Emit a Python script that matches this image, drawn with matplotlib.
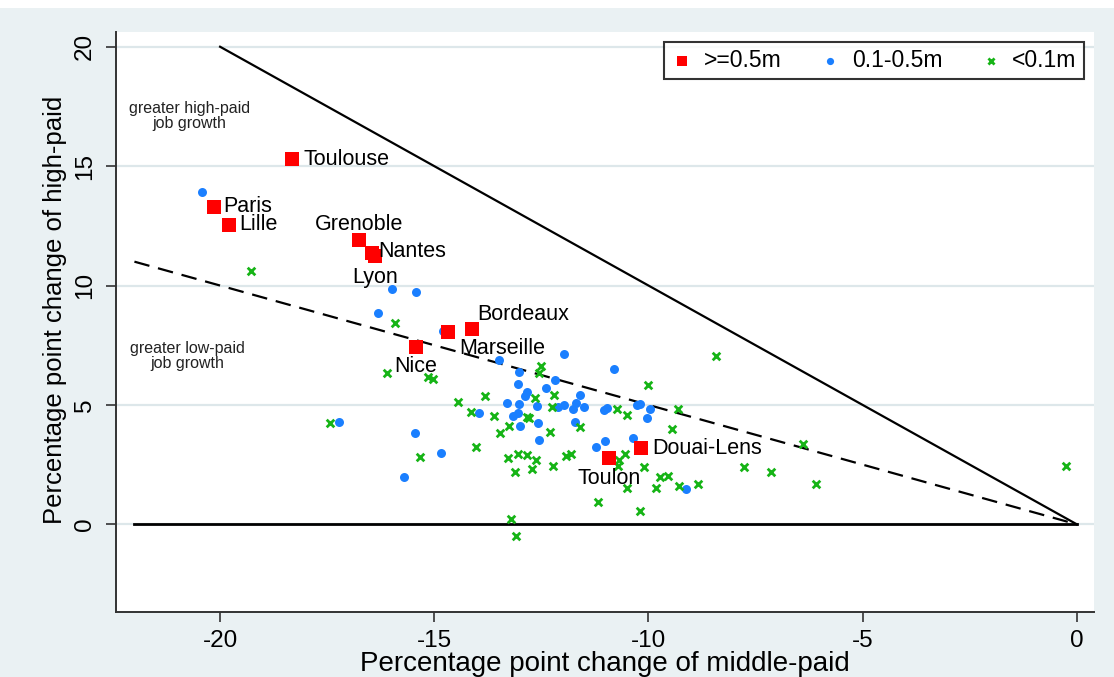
import matplotlib
matplotlib.use("Agg")
import matplotlib.pyplot as plt
from matplotlib.patches import Rectangle

plt.rcParams['font.family'] = ['Liberation Sans', 'DejaVu Sans']

# ---------------- data ----------------
large_names = ["Toulouse", "Paris", "Lille", "Grenoble", "Nantes", "Lyon",
               "Bordeaux", "Marseille", "Nice", "Douai-Lens", "Toulon"]
large_x = [-18.31, -20.15, -19.79, -16.75, -16.46, -16.38, -14.13, -14.67, -15.43, -10.17, -10.91]
large_y = [15.28, 13.30, 12.55, 11.91, 11.35, 11.25, 8.19, 8.04, 7.44, 3.20, 2.76]

mid_x = [-20.42, -15.99, -15.43, -16.32, -14.79, -13.49, -11.97, -10.80, -13.02, -12.18,
         -13.04, -12.40, -12.83, -12.88, -11.60, -13.31, -13.02, -12.60, -12.12, -11.97,
         -11.69, -11.77, -11.50, -11.03, -10.96, -10.27, -10.20, -9.97, -13.96, -13.16,
         -13.04, -10.03, -11.71, -12.57, -13.01, -12.55, -10.36, -11.01, -11.23, -14.84,
         -9.12, -17.22, -15.45, -15.70]
mid_y = [13.92, 9.84, 9.74, 8.84, 8.11, 6.88, 7.13, 6.52, 6.39, 6.04,
         5.87, 5.71, 5.54, 5.38, 5.41, 5.09, 5.02, 4.95, 4.90, 4.98,
         5.09, 4.82, 4.90, 4.79, 4.88, 4.98, 5.04, 4.83, 4.65, 4.55,
         4.65, 4.46, 4.27, 4.23, 4.12, 3.53, 3.63, 3.49, 3.25, 2.97,
         1.49, 4.27, 3.84, 1.98]

small_x = [-19.27, -15.91, -16.11, -15.15, -15.04, -13.81, -14.45, -14.14, -13.60, -13.26,
           -13.47, -17.43, -14.02, -8.42, -12.52, -12.55, -10.01, -12.20, -12.64, -12.26,
           -10.74, -9.32, -12.83, -12.79, -10.49, -11.60, -12.29, -9.46, -15.33, -13.29,
           -13.04, -12.84, -12.62, -13.12, -12.73, -12.22, -11.92, -11.81, -10.68, -10.54,
           -10.70, -10.10, -9.74, -9.54, -10.49, -9.83, -9.28, -8.84, -11.17, -10.20,
           -13.22, -13.10, -6.40, -7.76, -7.15, -6.09, -0.25]
small_y = [10.61, 8.44, 6.32, 6.16, 6.07, 5.39, 5.11, 4.72, 4.55, 4.12,
           3.84, 4.23, 3.22, 7.05, 6.63, 6.32, 5.82, 5.43, 5.29, 4.93,
           4.84, 4.82, 4.51, 4.46, 4.58, 4.09, 3.88, 3.98, 2.81, 2.79,
           2.94, 2.91, 2.69, 2.19, 2.30, 2.44, 2.87, 2.94, 2.69, 2.93,
           2.45, 2.41, 1.98, 2.04, 1.51, 1.51, 1.60, 1.69, 0.93, 0.57,
           0.23, -0.50, 3.36, 2.40, 2.19, 1.69, 2.43]

legend_labels = [">=0.5m", "0.1-0.5m", "<0.1m"]
x_ticks = [-20, -15, -10, -5, 0]
y_ticks = [0, 5, 10, 15, 20]

# reference lines: solid from (-20,20) to origin, dashed y=-0.5x, zero line
solid_x = [-20, 0]
solid_y = [20, 0]
dash_x = [-22, 0]
dash_y = [11, 0]
zero_x = [-22, 0]
zero_y = [0, 0]

# label placement (offset in pixels from marker, alignment)
label_style = {
    "Toulouse": (11, 0, "left"), "Paris": (10, 0, "left"), "Lille": (10, 0, "left"),
    "Grenoble": (0, 15, "center"), "Nantes": (7, 2, "left"), "Lyon": (0, -22, "center"),
    "Bordeaux": (6, 14, "left"), "Marseille": (11, -16, "left"), "Nice": (0, -20, "center"),
    "Douai-Lens": (11, -1, "left"), "Toulon": (0, -20, "center"),
}

# ---------------- figure ----------------
W, H = 1114, 677
fig = plt.figure(figsize=(W / 100, H / 100), dpi=100, facecolor="white")
bg = "#EAF1F3"
fig.patches.append(Rectangle((0, 0), 1, (H - 8) / H, transform=fig.transFigure,
                             facecolor=bg, edgecolor="none", zorder=-10))

left, right, top, bottom = 116, 1094, 31.7, 611.5
ax = fig.add_axes([left / W, (H - bottom) / H, (right - left) / W, (bottom - top) / H])
ax.set_facecolor("white")
ax.set_xlim(-22.43, 0.40)
ax.set_ylim(-3.65, 20.63)

for s in ["top", "right"]:
    ax.spines[s].set_visible(False)
for s in ["left", "bottom"]:
    ax.spines[s].set_color("#333333")
    ax.spines[s].set_linewidth(1.4)

ax.set_xticks(x_ticks)
ax.set_yticks(y_ticks)
ax.set_xticklabels([str(t) for t in x_ticks])
ax.set_yticklabels([str(t) for t in y_ticks], rotation=90, va="center")
ax.tick_params(axis="both", direction="out", length=7.5, width=1.2, color="#333333",
               labelsize=17.5)
ax.tick_params(axis="x", pad=6)
ax.tick_params(axis="y", pad=7)
ax.yaxis.grid(True, color="#DDE7EA", linewidth=1.6, zorder=0)
ax.set_axisbelow(True)

ax.set_xlabel("Percentage point change of middle-paid", fontsize=20)
ax.set_ylabel("Percentage point change of high-paid", fontsize=18.5)
ax.xaxis.set_label_coords(0.5, -0.091)
ax.xaxis.label.set_va("center")
ax.yaxis.set_label_coords(-0.0624, 0.52)
ax.yaxis.label.set_va("center")

ax.plot(zero_x, zero_y, color="black", linewidth=2.0, zorder=2)
ax.plot(solid_x, solid_y, color="black", linewidth=1.6, zorder=2)
ax.plot(dash_x, dash_y, color="black", linewidth=1.6, linestyle=(0, (7, 4)), zorder=2)

blue = "#1A7FFF"
green = "#16B416"
red = "#FF0000"
ax.scatter(mid_x, mid_y, s=42, marker="o", color=blue, linewidths=0, zorder=3, label=legend_labels[1])
ax.scatter(small_x, small_y, s=30, marker="x", color=green, linewidths=2.0, zorder=4, label=legend_labels[2])
ax.scatter(large_x, large_y, s=92, marker="s", color=red, linewidths=0, zorder=5, label=legend_labels[0])

for name, x, y in zip(large_names, large_x, large_y):
    dx, dy, ha = label_style[name]
    ax.annotate(name, (x, y), xytext=(dx * 0.72, dy * 0.72), textcoords="offset points",
                ha=ha, va="center", fontsize=15.5, color="black", zorder=6)

ax.text(-20.71, 17.12, "greater high-paid\njob growth", ha="center", va="center",
        fontsize=11.5, color="#222222", linespacing=1.0)
ax.text(-20.77, 7.05, "greater low-paid\njob growth", ha="center", va="center",
        fontsize=11.5, color="#222222", linespacing=1.0)

h, l = ax.get_legend_handles_labels()
order = [l.index(t) for t in legend_labels]
leg = ax.legend([h[i] for i in order], [l[i] for i in order], ncol=3,
                loc="upper right", bbox_to_anchor=(1084 / W, (H - 41.7) / H),
                bbox_transform=fig.transFigure, borderaxespad=0,
                fontsize=16.5, frameon=True, fancybox=False,
                edgecolor="black", handletextpad=0.45, columnspacing=1.6,
                borderpad=0.32, handlelength=1.0, markerscale=0.8)
leg.get_frame().set_linewidth(1.5)

fig.savefig("out.png", dpi=100, facecolor=fig.get_facecolor())
